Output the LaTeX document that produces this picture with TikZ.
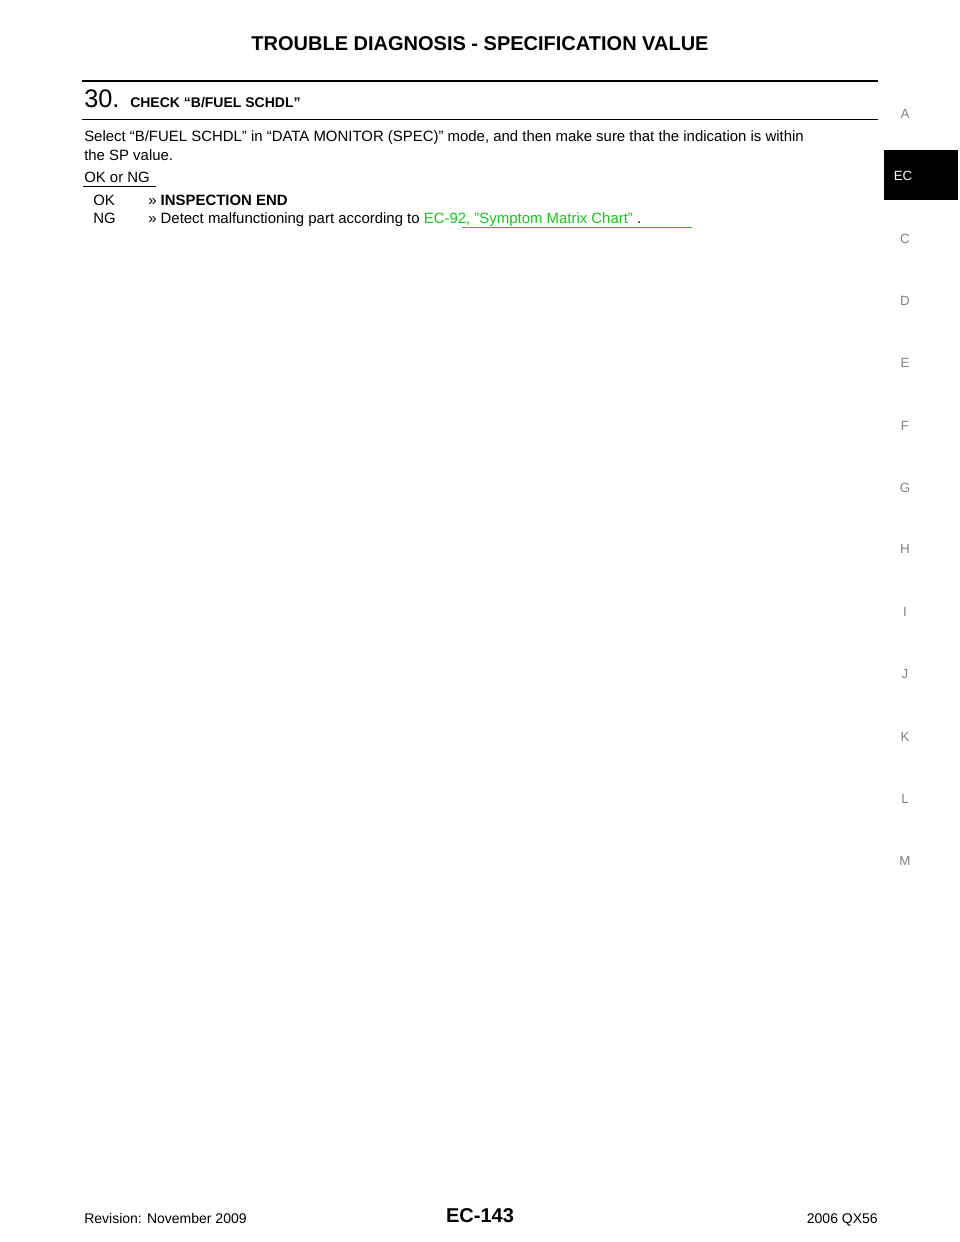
\documentclass[tikz,border=0pt]{standalone}
\usepackage{fontspec}
\setmainfont{Liberation Sans}
\definecolor{linkgreen}{RGB}{20,200,20}
\definecolor{tabgray}{RGB}{130,130,130}
\begin{document}
\begin{tikzpicture}[x=0.75pt,y=-0.75pt,
  body/.style={anchor=base west,inner sep=0,font=\fontsize{11.2}{13}\selectfont},
  tab/.style={inner sep=0,font=\fontsize{10}{12}\selectfont,text=tabgray}]
\useasboundingbox (0,0) rectangle (960,1242);
\fill[white] (0,0) rectangle (960,1242);
\node[inner sep=0,font=\fontsize{15}{18}\bfseries] (title) at (480,44) {TROUBLE DIAGNOSIS - SPECIFICATION VALUE};
\draw[line width=2.2pt] (82,81) -- (878,81);
\node[body,font=\fontsize{19}{22}\selectfont] (num) at (84,107) {30.};
\node[body,font=\fontsize{10.5}{12}\bfseries] (head) at (130,107) {CHECK “B/FUEL SCHDL”};
\draw[line width=0.6pt] (82,119) -- (878,119);
\node[body] (l1) at (84,141) {Select “B/FUEL SCHDL” in “DATA MONITOR (SPEC)” mode, and then make sure that the indication is within};
\node[body] (l2) at (84,160) {the SP value.};
\node[body] (okng) at (84,182) {OK or NG};
\draw[line width=0.6pt] (83,186) -- (156,186);
\node[body] (ok) at (93,205) {OK};
\node[body] (okr) at (148,205) {>> \textbf{INSPECTION END}};
\node[body] (ng) at (93,223) {NG};
\node[body] (ngr) at (148,223) {>> Detect malfunctioning part according to \textcolor{linkgreen}{EC-92, "Symptom Matrix Chart"} .};
\draw[linkgreen,line width=0.6pt] (462,227) -- (692,227);
% side tabs
\fill[black] (884,150) rectangle (958,200);
\node[tab,text=white] (ec) at (903,176) {EC};
\foreach \l/\y in {A/114,C/239,D/301,E/363,F/426,G/488,H/549,I/612,J/674,K/737,L/799,M/861}
  \node[tab] (t\l) at (905,\y) {\l};
% footer
\node[body,font=\fontsize{10.5}{12}\selectfont] (rev) at (84,1223) {Revision: November 2009};
\node[inner sep=0,font=\fontsize{15}{18}\bfseries] (pg) at (480,1216) {EC-143};
\node[anchor=base east,inner sep=0,font=\fontsize{10.5}{12}\selectfont] (model) at (878,1223) {2006 QX56};
\end{tikzpicture}
\end{document}
